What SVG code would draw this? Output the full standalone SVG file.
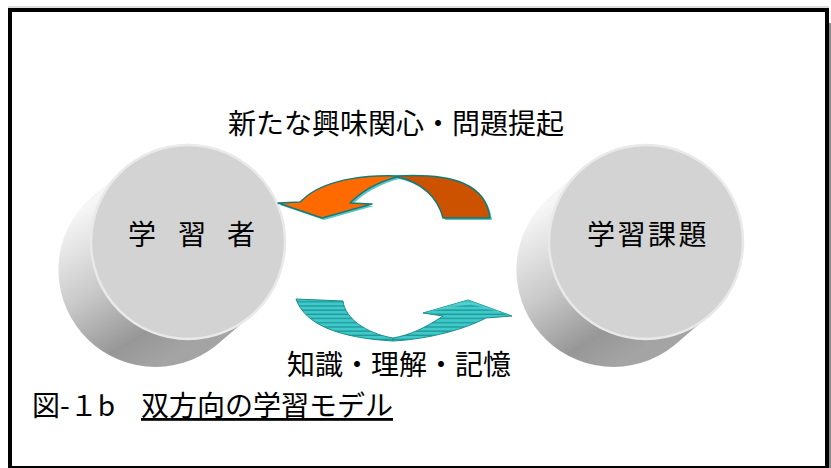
<svg xmlns="http://www.w3.org/2000/svg" width="831" height="468" viewBox="0 0 831 468">
<style>
.lbl{font-family:"Noto Sans CJK JP","Noto Sans",sans-serif;font-size:28px;fill:#000;}
.face{fill:#d3d3d3;stroke:#e9e9e9;stroke-width:2.5;}
.body{fill:url(#cylGrad);}
.outline{stroke:#137a7a;stroke-width:1.4;stroke-linejoin:round;}
.shadow{fill:#5cc6c6;}
.ribbon{fill:url(#stripes);stroke:#1a8d8d;stroke-width:1;stroke-linejoin:round;}
</style>
<defs>
<linearGradient id="cylGrad" x1="0.05" y1="0.25" x2="0.5" y2="1">
<stop offset="0" stop-color="#f6f6f6"/>
<stop offset="0.45" stop-color="#c8c8c8"/>
<stop offset="0.8" stop-color="#979797"/>
<stop offset="1" stop-color="#a4a4a4"/>
</linearGradient>
<pattern id="stripes" width="8" height="4.2" patternUnits="userSpaceOnUse">
<rect width="8" height="4.2" fill="#3ccaca"/>
<rect y="3" width="8" height="1" fill="#1f8484"/>
</pattern>
</defs>
<rect x="0" y="0" width="831" height="468" fill="#fff"/>
<line x1="8" y1="7" x2="829" y2="7" stroke="#bdbdbd" stroke-width="1"/>
<line x1="830" y1="23" x2="830" y2="468" stroke="#8a8a8a" stroke-width="2"/>
<rect x="10" y="10" width="817" height="458" fill="none" stroke="#000" stroke-width="4"/>

<g id="learner">
<path class="body" d="M124.9 168.4 L89.9 198.4 A97 97 0 0 0 216.1 345.6 L251.1 315.6 Z"/>
<circle class="face" cx="188" cy="242" r="97"/>
<text class="lbl" y="245" x="128">学 <tspan x="178">習 </tspan><tspan x="227">者</tspan></text>
</g>

<g id="task">
<path class="body" d="M582.9 168.4 L547.9 198.4 A97 97 0 0 0 674.1 345.6 L709.1 315.6 Z"/>
<circle class="face" cx="646" cy="242" r="97"/>
<text class="lbl" x="648" y="245" text-anchor="middle" letter-spacing="2.5">学習課題</text>
</g>

<g id="connectors">
<g id="arrow-top">
<g transform="translate(2,2)">
<path class="shadow" d="M397 176 C370 175 330 178 307 196 L300 202 L278 203 L322 218 L372 204 L350 203 C362 191 378 182 397 177 Z"/>
<path class="shadow" d="M397 176 C455 173 486 185 490 218 L443 218 C438 198 422 182 397 177 Z"/>
</g>
<path class="outline" fill="#cc5200" d="M397 176 C455 173 486 185 490 218 L443 218 C438 198 422 182 397 177 Z"/>
<path class="outline" fill="#ff6a00" d="M397 176 C370 175 330 178 307 196 L300 202 L278 203 L322 218 L372 204 L350 203 C362 191 378 182 397 177 Z"/>
</g>
<g id="arrow-bottom">
<path class="ribbon" d="M296 299 L343 301 C345 318 365 333 393 338 L393 341 C340 338 305 325 296 299 Z"/>
<path class="ribbon" d="M393 341 C430 339 465 329 486 318 L512 316 L468 300 L423 313 L443 316 C425 328 410 335 393 338 Z"/>
<path fill="#5fd6d6" opacity="0.6" d="M423 313 L468 300 L512 316 L470 304 Z"/>
</g>
</g>

<g id="labels">
<text class="lbl" x="396" y="134" text-anchor="middle">新たな興味関心・問題提起</text>
<text class="lbl" x="399" y="375" text-anchor="middle">知識・理解・記憶</text>
<text class="lbl" x="32" y="416">図-１b<tspan x="141" text-decoration="underline">双方向の学習モデル</tspan></text>
</g>
</svg>
